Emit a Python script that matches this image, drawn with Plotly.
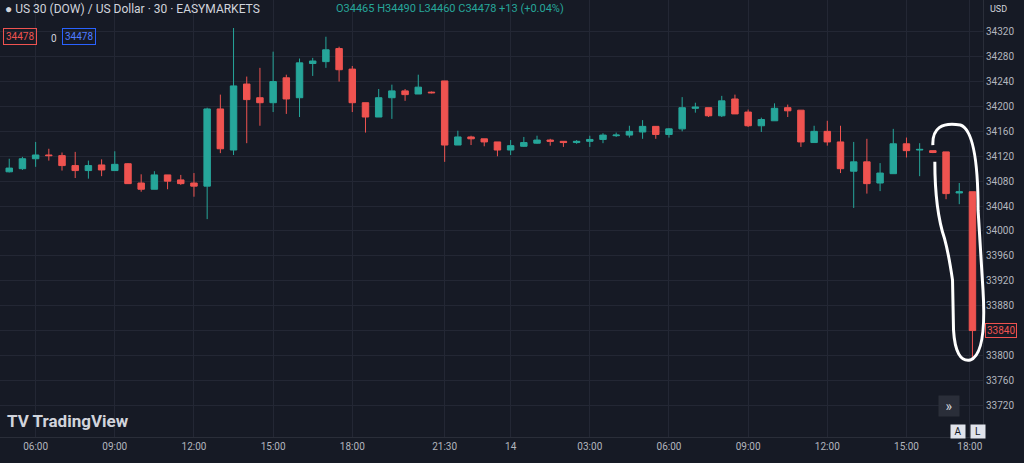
import plotly.graph_objects as go

# 30-minute candles
opens = [34095, 34100, 34116, 34122, 34121, 34105, 34097, 34106, 34097, 34108,
         34077, 34067, 34090, 34082, 34077, 34072, 34196, 34130, 34236, 34214,
         34206, 34246, 34214, 34269, 34272, 34293, 34260, 34206, 34183, 34214,
         34225, 34220, 34223, 34241, 34138, 34151, 34148, 34143, 34130, 34136,
         34141, 34146, 34144, 34142, 34144, 34147, 34153, 34154, 34159, 34168,
         34155, 34164, 34197, 34198, 34185, 34212, 34191, 34169, 34177, 34198,
         34194, 34142, 34160, 34143, 34096, 34111, 34077, 34092, 34140, 34130,
         34129, 34127, 34061, 34063]
highs = [34116, 34119, 34143, 34132, 34126, 34127, 34113, 34115, 34128, 34109,
         34091, 34096, 34090, 34090, 34093, 34198, 34219, 34326, 34248, 34262,
         34288, 34251, 34277, 34278, 34312, 34296, 34265, 34206, 34228, 34235,
         34228, 34251, 34224, 34241, 34161, 34153, 34148, 34143, 34146, 34151,
         34153, 34148, 34144, 34146, 34153, 34157, 34158, 34169, 34178, 34168,
         34165, 34215, 34206, 34198, 34217, 34219, 34195, 34182, 34205, 34203,
         34194, 34169, 34177, 34169, 34143, 34148, 34109, 34164, 34150, 34141,
         34129, 34127, 34077, 34063]
lows = [34094, 34098, 34103, 34113, 34097, 34085, 34084, 34088, 34097, 34076,
        34063, 34067, 34067, 34074, 34055, 34019, 34125, 34122, 34141, 34169,
        34191, 34188, 34183, 34249, 34262, 34240, 34191, 34158, 34183, 34180,
        34209, 34220, 34221, 34111, 34138, 34138, 34136, 34120, 34122, 34135,
        34140, 34137, 34135, 34140, 34135, 34141, 34151, 34150, 34148, 34148,
        34150, 34160, 34190, 34183, 34183, 34188, 34167, 34159, 34177, 34183,
        34135, 34142, 34137, 34093, 34037, 34060, 34064, 34092, 34118, 34088,
        34125, 34051, 34043, 33796]
closes = [34101, 34116, 34122, 34121, 34105, 34097, 34105, 34098, 34107, 34076,
          34067, 34090, 34080, 34076, 34072, 34196, 34132, 34233, 34211, 34206,
          34240, 34212, 34270, 34273, 34291, 34259, 34206, 34183, 34214, 34225,
          34219, 34231, 34222, 34138, 34151, 34148, 34143, 34130, 34137, 34142,
          34146, 34144, 34142, 34144, 34147, 34154, 34154, 34160, 34168, 34155,
          34164, 34198, 34199, 34185, 34209, 34188, 34169, 34179, 34197, 34193,
          34143, 34160, 34143, 34100, 34111, 34076, 34093, 34140, 34129, 34131,
          34126, 34060, 34063, 33840]

tick_pos = [2, 8, 14, 20, 26, 33, 38, 44, 50, 56, 62, 68, 72.8]
tick_text = ["06:00", "09:00", "12:00", "15:00", "18:00", "21:30", "14",
             "03:00", "06:00", "09:00", "12:00", "15:00", "18:00"]
price_ticks = list(range(33720, 34321, 40))

bg = "#161a25"
grid = "#232734"
teal = "#26a69a"
red = "#ef5350"

fig = go.Figure(go.Candlestick(
    x=list(range(len(opens))), open=opens, high=highs, low=lows, close=closes,
    increasing=dict(line=dict(color=teal, width=1), fillcolor=teal),
    decreasing=dict(line=dict(color=red, width=1), fillcolor=red),
    whiskerwidth=0, showlegend=False, hoverinfo="none"))

fig.update_layout(
    width=1024, height=463, paper_bgcolor=bg, plot_bgcolor=bg,
    margin=dict(l=0, r=41, t=0, b=26),
    font=dict(family="Roboto", color="#b2b5be", size=10),
    xaxis=dict(range=[-0.7, 73.8], tickvals=tick_pos, ticktext=tick_text,
               showgrid=True, gridcolor=grid, zeroline=False,
               rangeslider=dict(visible=False), ticks="", showline=True,
               linecolor="#2a2e39", tickfont=dict(size=10, color="#b2b5be")),
    yaxis=dict(range=[33669, 34371], side="right", tickvals=price_ticks,
               tickformat="d", showgrid=True, gridcolor=grid, zeroline=False,
               ticks="", showline=True, linecolor="#2a2e39",
               tickfont=dict(size=10, color="#b2b5be")),
)

# header and badges
fig.add_annotation(x=0.003, y=1.0, xref="paper", yref="paper", xanchor="left", yanchor="top",
                   text="<b>●</b> US 30 (DOW) / US Dollar · 30 · EASYMARKETS", showarrow=False,
                   font=dict(size=12, color="#d1d4dc"))
fig.add_annotation(x=0.34, y=1.0, xref="paper", yref="paper", xanchor="left", yanchor="top",
                   text="O34465 H34490 L34460 C34478 +13 (+0.04%)", showarrow=False,
                   font=dict(size=11, color=teal))
fig.add_annotation(x=0.003, y=0.935, xref="paper", yref="paper", xanchor="left", yanchor="top",
                   text="34478", showarrow=False, bordercolor=red, borderwidth=1, borderpad=2,
                   font=dict(size=10, color=red))
fig.add_annotation(x=0.05, y=0.93, xref="paper", yref="paper", xanchor="left", yanchor="top",
                   text="0", showarrow=False, font=dict(size=10, color="#d1d4dc"))
fig.add_annotation(x=0.063, y=0.935, xref="paper", yref="paper", xanchor="left", yanchor="top",
                   text="34478", showarrow=False, bordercolor="#2962ff", borderwidth=1, borderpad=2,
                   font=dict(size=10, color="#4f7cff"))
fig.add_annotation(x=1.0, y=1.0, xref="paper", yref="paper", xanchor="left", yanchor="top",
                   text="USD", showarrow=False, xshift=5, yshift=-2, font=dict(size=9, color="#d1d4dc"))
fig.add_annotation(x=1.0, y=closes[-1], xref="paper", yref="y", xanchor="left",
                   text="33840", showarrow=False, xshift=2, bgcolor=bg, bordercolor=red,
                   borderwidth=1, borderpad=1, font=dict(size=10, color=red))
fig.add_annotation(x=0.005, y=0.01, xref="paper", yref="paper", xanchor="left", yanchor="bottom",
                   text="<b>TV TradingView</b>", showarrow=False, font=dict(size=17, color="#d1d4dc"))
fig.add_annotation(x=0.977, y=0.045, xref="paper", yref="paper", text="»", showarrow=False,
                   bgcolor="#2a2e39", font=dict(size=14, color="#d1d4dc"), width=18, height=18)
for xs, t in [(0, "A"), (20, "L")]:
    fig.add_annotation(x=1.0, y=0, xref="paper", yref="paper", xanchor="left", yanchor="bottom",
                       text=t, showarrow=False, xshift=-33 + xs, yshift=-2, bgcolor="#e0e3eb",
                       font=dict(size=10, color="#131722"), width=12)

# hand-drawn loop around the last candles
fig.add_shape(type="path", xref="paper", yref="paper", line=dict(color="white", width=3),
              path="M 0.949 0.668 Q 0.948 0.725 0.977 0.714 Q 0.995 0.70 0.995 0.519 "
                   "L 1.0 0.336 Q 1.004 0.19 0.987 0.176 Q 0.972 0.17 0.97 0.245 "
                   "L 0.969 0.359 Q 0.965 0.42 0.961 0.453 Q 0.951 0.52 0.951 0.63")

fig.write_html("out.html", config={"displayModeBar": False},
               post_script="document.body.style.margin='0';")
